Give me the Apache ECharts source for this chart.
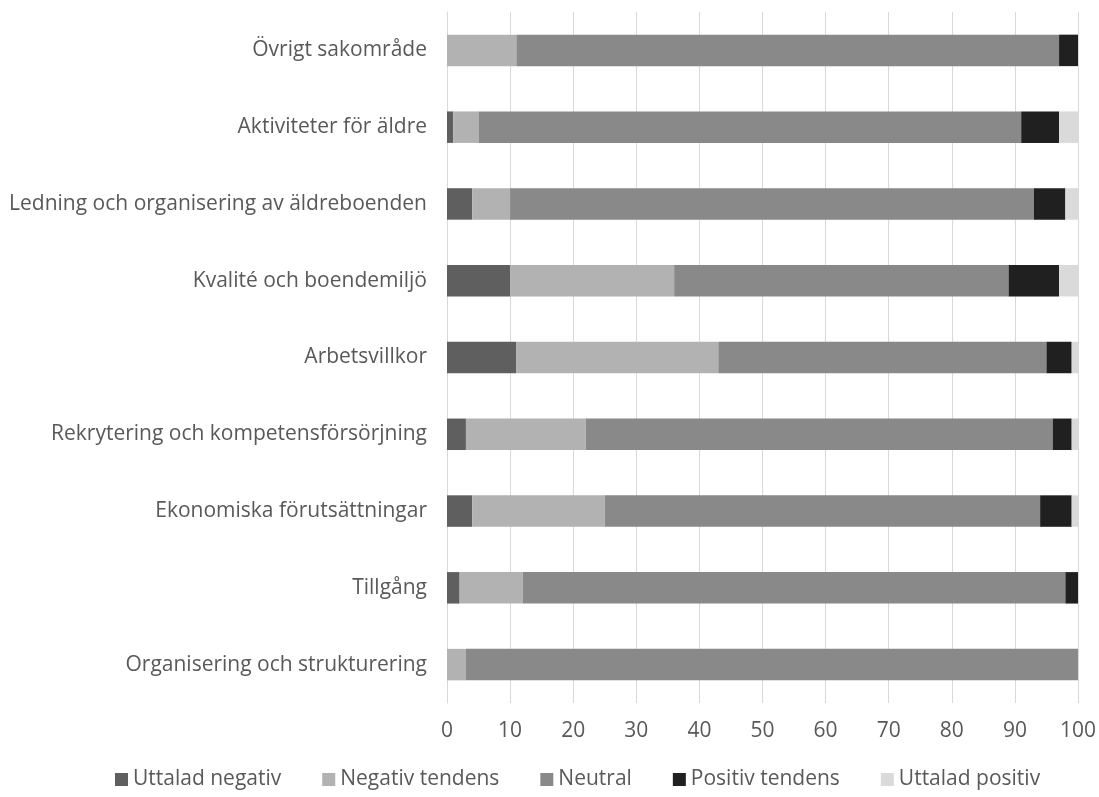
<!DOCTYPE html>
<html><head><meta charset="utf-8">
<script src="https://cdn.jsdelivr.net/npm/echarts@6/dist/echarts.min.js"></script>
<style>html,body{margin:0;padding:0;background:#fff}#c{width:1099px;height:797px}</style>
</head><body><div id="c"></div>
<script>
const categories = ["Övrigt sakområde","Aktiviteter för äldre","Ledning och organisering av äldreboenden","Kvalité och boendemiljö","Arbetsvillkor","Rekrytering och kompetensförsörjning","Ekonomiska förutsättningar","Tillgång","Organisering och strukturering"];
const seriesNames = ["Uttalad negativ","Negativ tendens","Neutral","Positiv tendens","Uttalad positiv"];
const uttaladNegativ = [0, 1, 4, 10, 11, 3, 4, 2, 0];
const negativTendens = [11, 4, 6, 26, 32, 19, 21, 10, 3];
const neutral = [86, 86, 83, 53, 52, 74, 69, 86, 97];
const positivTendens = [3, 6, 5, 8, 4, 3, 5, 2, 0];
const uttaladPositiv = [0, 3.5, 2, 3, 1, 1, 1, 0, 0];
const xTicks = [0,10,20,30,40,50,60,70,80,90,100];
const colors = ["#5f5f5f","#b2b2b2","#898989","#202020","#dadada"];
const values = [uttaladNegativ, negativTendens, neutral, positivTendens, uttaladPositiv];
const font = "'Open Sans', 'Liberation Sans', sans-serif";
const chart = echarts.init(document.getElementById('c'), null, {renderer:'canvas'});
chart.setOption({
  animation:false,
  color: colors,
  textStyle:{fontFamily:font},
  grid:{left:447, right:20, top:12, bottom:94},
  legend:{bottom:2, left:110, itemWidth:13, itemHeight:13, itemGap:41, icon:'rect',
    textStyle:{color:'#595959', fontSize:21, fontFamily:font}, data: seriesNames},
  xAxis:{type:'value', min:xTicks[0], max:xTicks[xTicks.length-1], interval:10,
    axisLine:{show:false}, axisTick:{show:false},
    axisLabel:{color:'#595959', fontSize:21, margin:18, fontFamily:font},
    splitLine:{show:true, lineStyle:{color:'#d9d9d9', width:1}}},
  yAxis:{type:'category', data:categories, inverse:true,
    axisLine:{show:true, lineStyle:{color:'#d9d9d9'}}, axisTick:{show:false},
    axisLabel:{color:'#595959', fontSize:21, margin:20, fontFamily:font}},
  series: seriesNames.map((n,i)=>({name:n, type:'bar', stack:'s', barWidth:'41%', data: values[i],
    itemStyle:{color:colors[i]}}))
});
</script></body></html>
